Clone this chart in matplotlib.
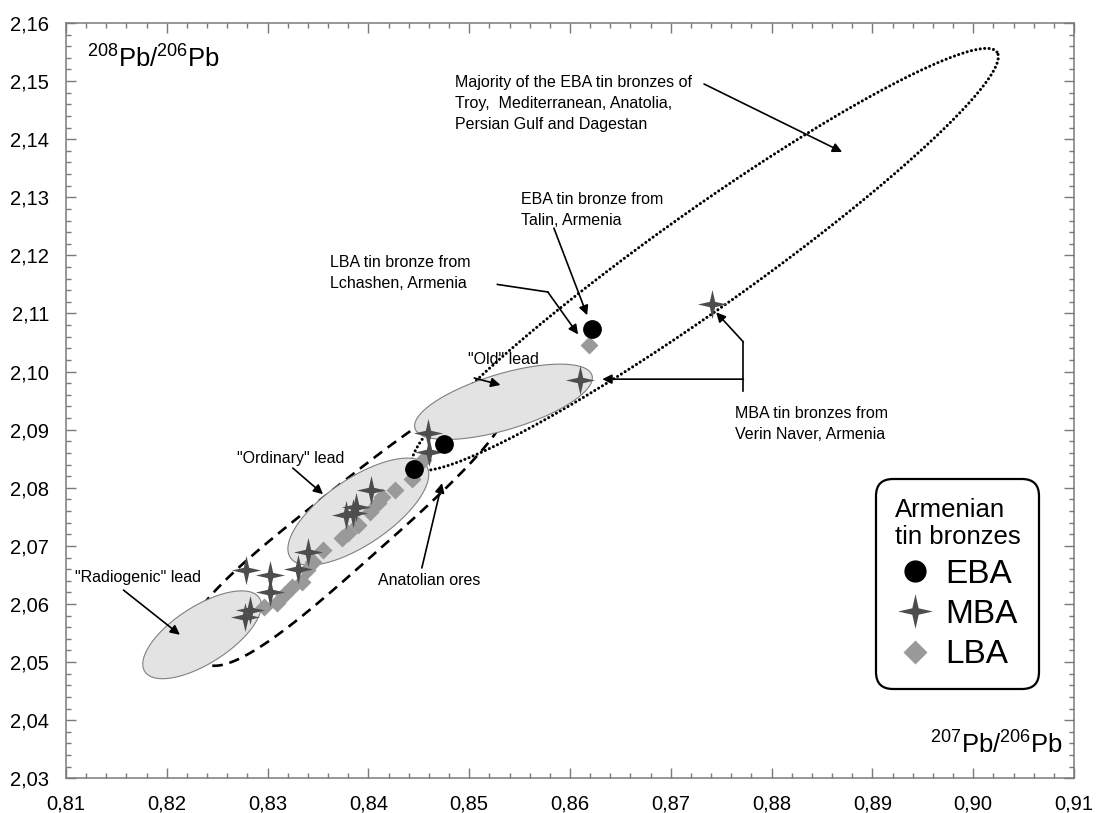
import numpy as np
import matplotlib.pyplot as plt
from matplotlib.lines import Line2D
from matplotlib.path import Path
from matplotlib.ticker import MultipleLocator, FuncFormatter

plt.rcParams['font.family'] = ['Liberation Sans', 'DejaVu Sans']

# Armenian tin bronzes, 207Pb/206Pb vs 208Pb/206Pb
eba_x = [0.8445, 0.8475, 0.8622]
eba_y = [2.0833, 2.0875, 2.1074]

mba_x = [0.8278, 0.8283, 0.8279, 0.8302, 0.8302, 0.8330, 0.8340, 0.8378,
         0.8385, 0.8388, 0.8403, 0.8459, 0.8460, 0.8610, 0.8741]
mba_y = [2.0578, 2.0590, 2.0658, 2.0621, 2.0650, 2.0661, 2.0690, 2.0753,
         2.0756, 2.0767, 2.0796, 2.0894, 2.0862, 2.0986, 2.1116]

lba_x = [0.8296, 0.8309, 0.8316, 0.8324, 0.8334, 0.8339, 0.8345, 0.8355,
         0.8374, 0.8380, 0.8390, 0.8402, 0.8410, 0.8413, 0.8426, 0.8443,
         0.8454, 0.8619]
lba_y = [2.0595, 2.0601, 2.0615, 2.0630, 2.0638, 2.0658, 2.0672, 2.0693,
         2.0713, 2.0722, 2.0736, 2.0759, 2.0773, 2.0785, 2.0796, 2.0816,
         2.0848, 2.1046]

# lead fields: centre, half-axis a, half-axis b (data units)
radiogenic = [(0.8235, 2.0547), (0.00568, 0.00633), (-0.00153, 0.00413)]
ordinary = [(0.8390, 2.0759), (0.00674, 0.00792), (-0.00184, 0.00470)]
old = [(0.8534, 2.0948), (0.00878, 0.00456), (-0.00080, 0.00461)]
anatolian = [(0.8380, 2.0734), (0.01520, 0.02213), (-0.00242, 0.00501)]
eba_field = [(0.8734, 2.1193), (0.02896, 0.03569), (-0.00279, 0.00680)]


def outline(c, a, b, n=2.0, taper=0.0):
    t = np.linspace(0, 2 * np.pi, 600)
    cu = np.sign(np.cos(t)) * np.abs(np.cos(t)) ** (2 / n)
    sv = np.sign(np.sin(t)) * np.abs(np.sin(t)) ** (2 / n) * (1 - taper * cu)
    return c[0] + cu * a[0] + sv * b[0], c[1] + cu * a[1] + sv * b[1]


# 4 pointed star marker
ang = np.pi / 2 - np.arange(8) * np.pi / 4
rad = np.where(np.arange(8) % 2 == 0, 1.0, 0.26)
star = Path(list(zip(rad * np.cos(ang), rad * np.sin(ang))) + [(0, 1)], closed=True)

fig = plt.figure(figsize=(11.01, 8.13), dpi=100)
ax = fig.add_axes([66 / 1101, 34.7 / 813, 1008 / 1101, 755.3 / 813])

x, y = outline(*eba_field)
ax.plot(x, y, color='k', lw=2.2, ls=(0, (0.01, 1.45)), dash_capstyle='round', zorder=1)
x, y = outline(*anatolian, n=3, taper=0.15)
ax.plot(x, y, color='k', lw=1.9, ls=(0, (4, 2.6)), zorder=1)
for f in [radiogenic, ordinary, old]:
    x, y = outline(*f)
    ax.fill(x, y, facecolor='#e3e3e3', edgecolor='#808080', lw=0.8, zorder=2)

ax.plot(lba_x, lba_y, ls='none', marker='D', ms=9, color='#999999', mec='none', zorder=4)
ax.plot(mba_x, mba_y, ls='none', marker=star, ms=21, color='#4d4d4d', mec='none', zorder=5)
ax.plot(eba_x, eba_y, ls='none', marker='o', ms=12.5, color='k', zorder=6)

ap = dict(arrowstyle='-|>', color='k', lw=1.2, mutation_scale=14, shrinkA=0, shrinkB=0)
fs = 11.5
ax.text(0.8486, 2.1462, 'Majority of the EBA tin bronzes of\nTroy,  Mediterranean, Anatolia,\nPersian Gulf and Dagestan',
        fontsize=fs, va='center', ha='left', linespacing=1.5)
ax.annotate('', xy=(0.8870, 2.1378), xytext=(0.8733, 2.1495), arrowprops=ap, zorder=3)
ax.text(0.8551, 2.1278, 'EBA tin bronze from\nTalin, Armenia', fontsize=fs, va='center', ha='left', linespacing=1.5)
ax.annotate('', xy=(0.8617, 2.1097), xytext=(0.8584, 2.1247), arrowprops=ap, zorder=3)
ax.text(0.8362, 2.1169, 'LBA tin bronze from\nLchashen, Armenia', fontsize=fs, va='center', ha='left', linespacing=1.5)
ax.plot([0.8528, 0.8578], [2.1150, 2.1137], color='k', lw=1.2, zorder=3)
ax.annotate('', xy=(0.8608, 2.1064), xytext=(0.8578, 2.1137), arrowprops=ap, zorder=3)
ax.text(0.8499, 2.1020, '"Old" lead', fontsize=fs, va='center', ha='left')
ax.annotate('', xy=(0.8531, 2.0977), xytext=(0.8505, 2.0989), arrowprops=ap, zorder=3)
ax.text(0.8270, 2.0851, '"Ordinary" lead', fontsize=fs, va='center', ha='left')
ax.annotate('', xy=(0.8355, 2.0789), xytext=(0.8325, 2.0834), arrowprops=ap, zorder=3)
ax.text(0.8109, 2.0645, '"Radiogenic" lead', fontsize=fs, va='center', ha='left')
ax.annotate('', xy=(0.8213, 2.0547), xytext=(0.8157, 2.0624), arrowprops=ap, zorder=3)
ax.text(0.8410, 2.0640, 'Anatolian ores', fontsize=fs, va='center', ha='left')
ax.annotate('', xy=(0.8473, 2.0808), xytext=(0.8453, 2.0662), arrowprops=ap, zorder=3)
ax.text(0.8764, 2.0909, 'MBA tin bronzes from\nVerin Naver, Armenia', fontsize=fs, va='center', ha='left', linespacing=1.5)
ax.plot([0.8772, 0.8772], [2.1051, 2.0966], color='k', lw=1.2, zorder=3)
ax.annotate('', xy=(0.8632, 2.0987), xytext=(0.8772, 2.0987), arrowprops=ap, zorder=3)
ax.annotate('', xy=(0.8745, 2.1102), xytext=(0.8772, 2.1051), arrowprops=ap, zorder=3)

ax.text(0.8121, 2.1523, r'$\mathregular{^{208}Pb/^{206}Pb}$', fontsize=18.5, va='baseline', ha='left')
ax.text(0.9089, 2.0342, r'$\mathregular{^{207}Pb/^{206}Pb}$', fontsize=18.5, va='baseline', ha='right')

handles = [Line2D([], [], ls='none', marker='o', ms=15, color='k', label='EBA'),
           Line2D([], [], ls='none', marker=star, ms=25, color='#4d4d4d', mec='none', label='MBA'),
           Line2D([], [], ls='none', marker='D', ms=12, color='#999999', mec='none', label='LBA')]
leg = ax.legend(handles=handles, title='Armenian\ntin bronzes', loc='center',
                bbox_to_anchor=(0.8844, 0.2573), fontsize=24, title_fontsize=18.5,
                frameon=True, fancybox=True, framealpha=1, edgecolor='k',
                handlelength=1.1, handletextpad=0.35, labelspacing=0.28, borderpad=0.55)
leg.get_frame().set_linewidth(1.6)
leg.get_frame().set_boxstyle('round', pad=0, rounding_size=0.5)
leg.set_zorder(10)

ax.set_xlim(0.81, 0.91)
ax.set_ylim(2.03, 2.16)
ax.xaxis.set_major_locator(MultipleLocator(0.01))
ax.xaxis.set_minor_locator(MultipleLocator(0.002))
ax.yaxis.set_major_locator(MultipleLocator(0.01))
ax.yaxis.set_minor_locator(MultipleLocator(0.002))
comma = FuncFormatter(lambda v, p: '{:.2f}'.format(v).replace('.', ','))
ax.xaxis.set_major_formatter(comma)
ax.yaxis.set_major_formatter(comma)
ax.tick_params(which='both', direction='in', top=True, right=True, color='#7a7a7a', width=1.0)
ax.tick_params(which='major', length=7, labelsize=14.5, pad=12)
ax.tick_params(which='minor', length=3.5)
for s in ax.spines.values():
    s.set_color('#7a7a7a')
    s.set_linewidth(1.1)

plt.savefig('out.png', dpi=100)
